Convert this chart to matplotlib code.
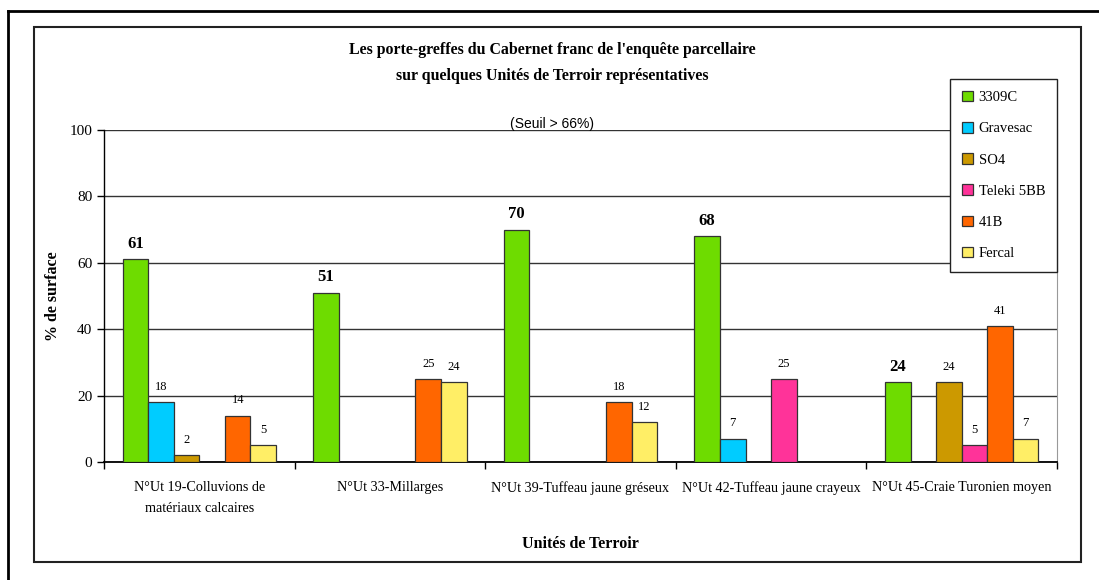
import numpy as np
import matplotlib.pyplot as plt
from matplotlib.patches import Rectangle
from matplotlib.lines import Line2D

# Data
categories = ["N°Ut 19-Colluvions de\nmatériaux calcaires", "N°Ut 33-Millarges",
              "N°Ut 39-Tuffeau jaune gréseux", "N°Ut 42-Tuffeau jaune crayeux",
              "N°Ut 45-Craie Turonien moyen"]
series = ["3309C", "Gravesac", "SO4", "Teleki 5BB", "41B", "Fercal"]
v_3309c = [61, 51, 70, 68, 24]
v_gravesac = [18, None, None, 7, None]
v_so4 = [2, None, None, None, 24]
v_teleki = [None, None, None, 25, 5]
v_41b = [14, 25, 18, None, 41]
v_fercal = [5, 24, 12, None, 7]
colors = ["#6EDC00", "#00CCFF", "#CC9900", "#FF3399", "#FF6600", "#FFEE66"]

values = [v_3309c, v_gravesac, v_so4, v_teleki, v_41b, v_fercal]

W, H = 1099, 580
fig = plt.figure(figsize=(W / 100, H / 100), dpi=100)
plt.rcParams['font.family'] = ['Liberation Serif', 'DejaVu Serif']

# frames
fig.add_artist(Line2D([8 / W, 8 / W], [0, 1 - 11 / H], color="black", lw=2))
fig.add_artist(Line2D([8 / W, 1], [1 - 11 / H, 1 - 11 / H], color="black", lw=2))
fig.add_artist(Rectangle((34 / W, 1 - 562 / H), (1081 - 34) / W, (562 - 27) / H,
                         transform=fig.transFigure, fill=False, ec="#222222", lw=1.5))

ax = fig.add_axes([104 / W, 1 - 462 / H, (1057 - 104) / W, (462 - 130) / H])

x = np.arange(len(categories))
w = 0.1343
for j, (name, vals) in enumerate(zip(series, values)):
    pos = x + (j - 2.5) * w
    h = np.array([np.nan if v is None else v for v in vals], dtype=float)
    ax.bar(pos, h, width=w, color=colors[j], edgecolor="#333333", linewidth=0.9,
           label=name, zorder=3)
    for p, v in zip(pos, vals):
        if v is None:
            continue
        if j == 0:
            ax.text(p, v + 2.3, str(v), ha="center", va="bottom", fontsize=12,
                    fontweight="bold")
        else:
            ax.text(p, v + 2.8, str(v), ha="center", va="bottom", fontsize=9)

ax.set_xlim(-0.5, len(categories) - 0.5)
ax.set_ylim(0, 100)
ax.set_yticks(range(0, 101, 20))
ax.yaxis.grid(True, color="#333333", lw=1, zorder=0)
ax.set_axisbelow(True)
ax.set_xticks(x)
ax.set_xticklabels(categories, fontsize=10.2, linespacing=1.75)
ax.set_xticks(np.arange(-0.5, len(categories)), minor=True)
ax.tick_params(axis="x", which="major", length=0, pad=14)
ax.tick_params(axis="x", which="minor", length=5, width=1)
ax.tick_params(axis="y", labelsize=11, length=5, width=1)
ax.spines["top"].set_visible(False)
ax.spines["right"].set_color("#999999")
ax.spines["left"].set_linewidth(1)
ax.spines["bottom"].set_linewidth(1.3)

ax.set_ylabel("% de surface", fontsize=11.5, fontweight="bold", labelpad=6)
ax.set_xlabel("Unités de Terroir", fontsize=11.5, fontweight="bold", labelpad=15)

fig.text(552 / W, 1 - 50 / H, "Les porte-greffes du Cabernet franc de l'enquête parcellaire",
         ha="center", va="center", fontsize=11.4, fontweight="bold")
fig.text(552 / W, 1 - 76 / H, "sur quelques Unités de Terroir représentatives",
         ha="center", va="center", fontsize=11.4, fontweight="bold")
fig.text(552 / W, 1 - 124 / H, "(Seuil > 66%)", ha="center", va="center",
         fontsize=10, family="Liberation Sans")

leg = ax.legend(loc="upper right", bbox_to_anchor=(1.0, 1 + 51 / 332), fontsize=10.5,
                frameon=True, fancybox=False, edgecolor="#222222", framealpha=1,
                handlelength=0.75, handleheight=0.75, handletextpad=0.4,
                labelspacing=1.22, borderpad=0.8, borderaxespad=0)
leg.get_frame().set_linewidth(1)
leg.set_zorder(10)

fig.savefig("out.png", dpi=100)
